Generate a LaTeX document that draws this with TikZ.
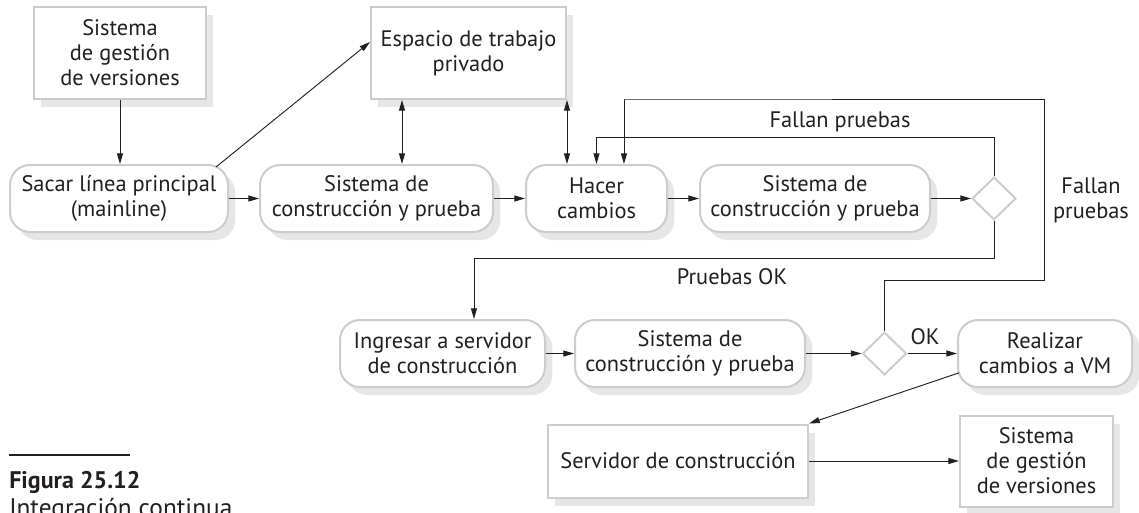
\documentclass[tikz,border=0pt]{standalone}
\usepackage{fontspec}
\setsansfont{PT Sans}
\usetikzlibrary{arrows.meta,calc,positioning,shapes.geometric,shadows}
\definecolor{bordo}{HTML}{CCCCCC}
\definecolor{ombra}{HTML}{E6E6E6}
\definecolor{testo}{HTML}{231F20}

\begin{document}
\begin{tikzpicture}[x=0.75pt, y=-0.75pt, >={Triangle[length=8pt,width=4.5pt]},
    font=\sffamily\fontsize{16.8}{18.75}\selectfont, text=testo,
    quadro/.style={draw=bordo, line width=1.5pt, fill=white, align=center, inner sep=0pt,
        drop shadow={shadow xshift=5.5pt, shadow yshift=-6pt, fill=ombra, opacity=1}},
    tondo/.style={quadro, rounded corners=15pt, minimum height=50.25pt},
    rombo/.style={diamond, draw=bordo, line width=1.5pt, fill=white, inner sep=0pt,
        minimum width=33pt, minimum height=32pt},
    freccia/.style={draw=testo, line width=0.7pt},
    etichetta/.style={align=center, inner sep=0pt}]
    \useasboundingbox (0,0) rectangle (1139,512);

    % Riga superiore
    \node[quadro, minimum width=129pt, minimum height=69pt] (vcs1) at (120,53) {Sistema\\de gestión\\de versiones};
    \node[quadro, minimum width=146.25pt, minimum height=69pt] (spazio) at (468.5,53) {Espacio de trabajo\\privado};

    % Prima riga
    \node[tondo, minimum width=163.5pt] (sacar) at (119,198.5) {Sacar línea principal\\(mainline)};
    \node[tondo, minimum width=174.75pt] (build1) at (376.5,198.5) {Sistema de\\construcción y prueba};
    \node[tondo, minimum width=105.75pt] (cambios) at (596.5,198.5) {Hacer\\cambios};
    \node[tondo, minimum width=172.5pt] (build2) at (815,198.5) {Sistema de\\construcción y prueba};
    \node[rombo] (test1) at (994,198.5) {};

    % Seconda riga
    \node[tondo, minimum width=153.75pt] (ingresar) at (442.5,353.5) {Ingresar a servidor\\de construcción};
    \node[tondo, minimum width=172.5pt] (build3) at (690,353.5) {Sistema de\\construcción y prueba};
    \node[rombo] (test2) at (884.5,353.5) {};
    \node[tondo, minimum width=130.5pt] (realizar) at (1045,353.5) {Realizar\\cambios a VM};

    % Terza riga
    \node[quadro, minimum width=195pt, minimum height=54.75pt] (servidor) at (678,461) {Servidor de construcción};
    \node[quadro, minimum width=114.75pt, minimum height=68.25pt] (vcs2) at (1036.5,461) {Sistema\\de gestión\\de versiones};

    % Etichette
    \node[etichetta] (lblfail) at (840,122) {Fallan pruebas};
    \node[etichetta] (lblpass) at (732,277) {Pruebas OK};
    \node[etichetta] (lblfail2) at (1091,200) {Fallan\\pruebas};
    \node[etichetta] (lblok) at (925,337) {OK};

    % Frecce
    \coordinate (c1) at ($(spazio.south west)+(32,0)$);
    \draw[freccia, ->] (vcs1.south) -- (vcs1.south |- sacar.north);
    \draw[freccia, ->] ([xshift=-9.75pt, yshift=-2.25pt]sacar.north east) -- ([yshift=8.25pt]spazio.west);
    \draw[freccia, <->] (c1) -- (c1 |- build1.north);
    \draw[freccia, <->] (spazio.south east) -- (spazio.south east |- cambios.north);
    \draw[freccia, ->] (sacar.east) -- (build1.west);
    \draw[freccia, ->] (build1.east) -- (cambios.west);
    \draw[freccia, ->] (cambios.east) -- (build2.west);
    \draw[freccia, ->] (build2.east) -- (test1.west);
    \draw[freccia, ->] (test1.north) -- ++(0,-39) -| (cambios.north);
    \draw[freccia, ->] (test1.south) -- ++(0,38) -| ([xshift=23.6pt]ingresar.north);
    \draw[freccia, ->] (ingresar.east) -- (build3.west);
    \draw[freccia, ->] (build3.east) -- (test2.west);
    \draw[freccia, ->] (test2.east) -- (realizar.west);
    \draw[freccia, ->] (test2.north) |- (1044,280) |- (624,99) -| ([xshift=20.6pt]cambios.north);
    \draw[freccia, ->] ([xshift=1.5pt, yshift=-14.5pt]realizar.west) -- (servidor.north east);
    \draw[freccia, ->] (servidor.east) -- (vcs2.west);

    % Didascalia
    \draw[line width=0.8pt, draw=testo] (9,455) -- (130,455);
    \node[anchor=base west, inner sep=0pt, font=\sffamily\bfseries\fontsize{18}{20}\selectfont] (figura) at (9,488) {Figura 25.12};
    \node[anchor=base west, inner sep=0pt, font=\sffamily\fontsize{19}{20}\selectfont] (didascalia) at (9,516) {Integración continua};
\end{tikzpicture}
\end{document}
